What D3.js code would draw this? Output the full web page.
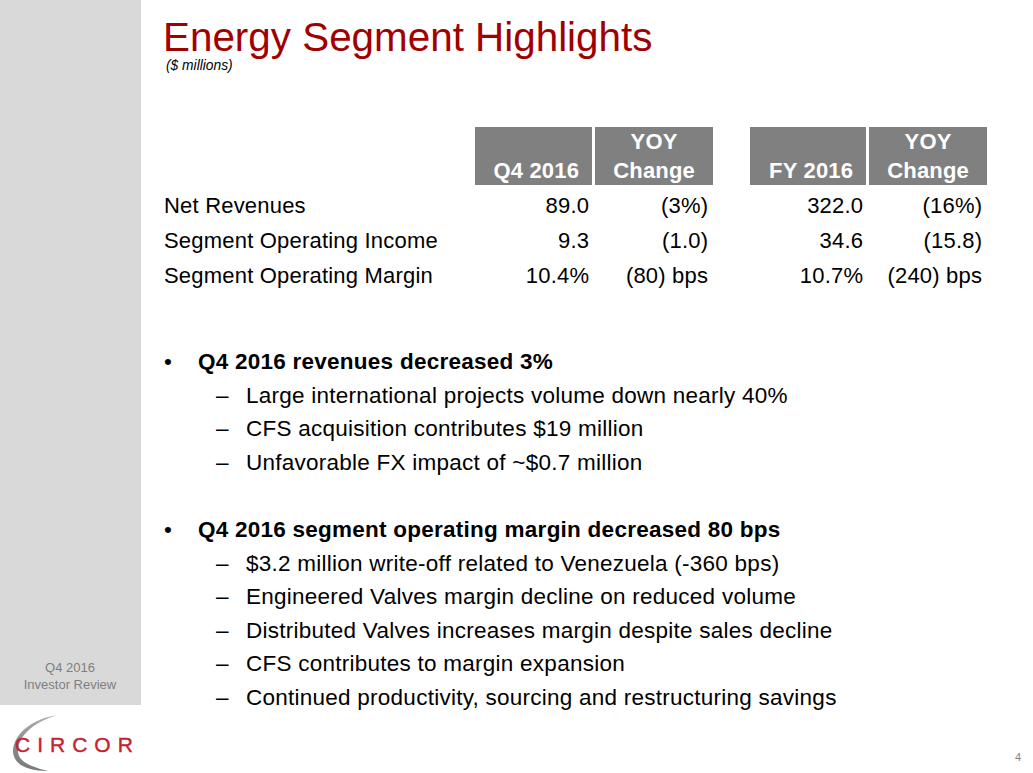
<!DOCTYPE html>
<html><head><meta charset="utf-8">
<script src="https://cdn.jsdelivr.net/npm/d3@7"></script>
<style>
html,body{margin:0;padding:0;background:#fff;}
svg{display:block;font-family:"Liberation Sans",Arial,sans-serif;}
</style></head>
<body>
<svg id="c" width="1033" height="773"></svg>
<script>
const title = "Energy Segment Highlights";
const subtitle = "($ millions)";
const headerTop = ["", "YOY", "", "YOY"];
const headerBottom = ["Q4 2016", "Change", "FY 2016", "Change"];
const rowLabels = ["Net Revenues", "Segment Operating Income", "Segment Operating Margin"];
const q4Values = ["89.0", "9.3", "10.4%"];
const q4Change = ["(3%)", "(1.0)", "(80) bps"];
const fyValues = ["322.0", "34.6", "10.7%"];
const fyChange = ["(16%)", "(15.8)", "(240) bps"];
const bullets = [
  {head: "Q4 2016 revenues decreased 3%", subs: [
    "Large international projects volume down nearly 40%",
    "CFS acquisition contributes $19 million",
    "Unfavorable FX impact of ~$0.7 million"]},
  {head: "Q4 2016 segment operating margin decreased 80 bps", subs: [
    "$3.2 million write-off related to Venezuela (-360 bps)",
    "Engineered Valves margin decline on reduced volume",
    "Distributed Valves increases margin despite sales decline",
    "CFS contributes to margin expansion",
    "Continued productivity, sourcing and restructuring savings"]}
];
const sidebarText = ["Q4 2016", "Investor Review"];
const pageNumber = "4";

const FS = 22, LS = 0.2;
const BFS = 22.5, BLS = 0.25;
const svg = d3.select("#c");

// sidebar
svg.append("rect").attr("x",0).attr("y",0).attr("width",141).attr("height",705).attr("fill","#d9d9d9");
svg.selectAll(".sb").data(sidebarText).join("text")
  .attr("x",70).attr("y",(d,i)=>672+i*17).attr("text-anchor","middle")
  .attr("font-size",13).attr("fill","#7f7f7f").text(d=>d);

// logo
const defs = svg.append("defs");
const gr = defs.append("linearGradient").attr("id","sw").attr("x1",0).attr("y1",0).attr("x2",0).attr("y2",1);
gr.append("stop").attr("offset","0%").attr("stop-color","#b0b0b0");
gr.append("stop").attr("offset","50%").attr("stop-color","#8c8c8c");
gr.append("stop").attr("offset","100%").attr("stop-color","#7a7a7a");
svg.append("path")
  .attr("d","M57,715 C32,719 13,734 13,752 C14,765 28,771 48,771 C32,767 18,762 18,751 C18,736 34,722 57,715 Z")
  .attr("fill","url(#sw)");
svg.append("text").attr("x",15).attr("y",752).attr("font-size",21)
  .attr("letter-spacing",7).attr("fill","#c8202f")
  .attr("stroke","#c8202f").attr("stroke-width",0.4)
  .text("CIRCOR");

// title
svg.append("text").attr("x",163).attr("y",51).attr("font-size",40.4).attr("fill","#a00000").text(title);
svg.append("text").attr("x",166).attr("y",70).attr("font-size",13.8).attr("font-style","italic").attr("fill","#000").text(subtitle);

// table header
const cols = [
  {x0:475, x1:592, anchor:"end"},
  {x0:595, x1:713, anchor:"middle"},
  {x0:750, x1:866, anchor:"end"},
  {x0:869, x1:987, anchor:"middle"}
];
const hdr = svg.append("g").attr("font-size",FS).attr("letter-spacing",LS).attr("font-weight","bold").attr("fill","#fff");
hdr.selectAll("rect").data(cols).join("rect")
  .attr("x",d=>d.x0).attr("y",127).attr("width",d=>d.x1-d.x0).attr("height",58).attr("fill","#808080");
hdr.selectAll(".ht").data(cols).join("text")
  .attr("x",d=>(d.x0+d.x1)/2+LS/2).attr("y",149).attr("text-anchor","middle")
  .text((d,i)=>headerTop[i]);
hdr.selectAll(".hb").data(cols).join("text")
  .attr("x",d=>d.anchor==="end" ? d.x1-13+LS : (d.x0+d.x1)/2+LS/2).attr("y",178)
  .attr("text-anchor",d=>d.anchor)
  .text((d,i)=>headerBottom[i]);

// table body
const y = d3.scaleLinear().domain([0,2]).range([212.5,282.5]);
const valueCols = [
  {vals:q4Values, x:589},
  {vals:q4Change, x:708},
  {vals:fyValues, x:863},
  {vals:fyChange, x:982}
];
const body = svg.append("g").attr("font-size",FS).attr("letter-spacing",LS).attr("fill","#000");
body.selectAll(".rl").data(rowLabels).join("text")
  .attr("x",164).attr("y",(d,i)=>y(i)).text(d=>d);
valueCols.forEach(c=>{
  body.append("g").selectAll("text").data(c.vals).join("text")
    .attr("x",c.x+LS).attr("y",(d,i)=>y(i)).attr("text-anchor","end").text(d=>d);
});

// bullets
const lines = [];
let yy = 368.5;
bullets.forEach((b,bi)=>{
  if(bi>0) yy += 33.5;
  lines.push({t:b.head, lvl:0, y:yy}); yy += 34;
  b.subs.forEach(s=>{ lines.push({t:s, lvl:1, y:yy}); yy += 33.5; });
});
const bl = svg.append("g").attr("font-size",BFS).attr("letter-spacing",BLS).attr("fill","#000");
bl.selectAll(".m").data(lines).join("text")
  .attr("x",d=>d.lvl?216:164).attr("y",d=>d.y).text(d=>d.lvl?"–":"•");
bl.selectAll(".t").data(lines).join("text")
  .attr("x",d=>d.lvl?246:198).attr("y",d=>d.y)
  .attr("font-weight",d=>d.lvl?"normal":"bold").text(d=>d.t);

// page number
svg.append("text").attr("x",1021).attr("y",761).attr("text-anchor","end").attr("font-size",11).attr("fill","#808080").text(pageNumber);
</script>
</body></html>
